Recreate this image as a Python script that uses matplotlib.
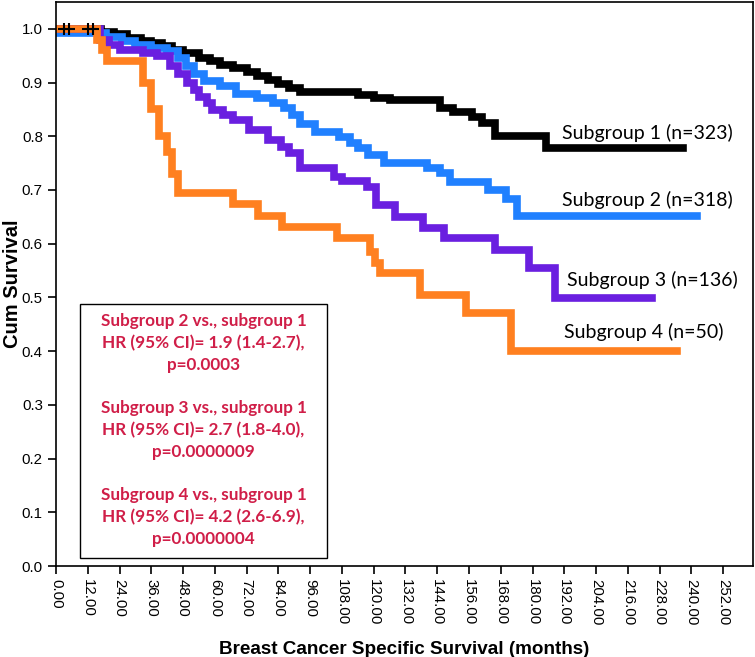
import numpy as np
import matplotlib.pyplot as plt
from matplotlib.patches import Rectangle

# Kaplan-Meier step values (months, cumulative survival)
t1 = [0, 17, 22, 27, 32, 36, 40, 44, 48, 54, 58, 62, 67, 72, 76, 80, 84, 88, 92, 114, 120, 126, 145, 150, 157, 161, 166, 185, 237]
s1 = [1.0, 0.995, 0.99, 0.983, 0.978, 0.973, 0.968, 0.961, 0.955, 0.945, 0.94, 0.933, 0.927, 0.92, 0.913, 0.905, 0.898, 0.89, 0.883, 0.877, 0.872, 0.868, 0.853, 0.845, 0.836, 0.825, 0.80, 0.778, 0.778]

t2 = [0, 19, 25, 30, 36, 42, 46, 49, 52, 56, 62, 68, 76, 82, 86, 89, 92, 98, 107, 111, 114, 118, 124, 140, 145, 149, 163, 170, 174, 242]
s2 = [0.993, 0.985, 0.978, 0.97, 0.965, 0.958, 0.945, 0.93, 0.915, 0.902, 0.893, 0.878, 0.872, 0.862, 0.852, 0.84, 0.822, 0.808, 0.798, 0.787, 0.778, 0.765, 0.75, 0.74, 0.732, 0.715, 0.70, 0.683, 0.652, 0.652]

t3 = [0, 16.6, 20, 24, 33, 38, 43, 46, 49.4, 52, 54, 57, 59, 63, 67, 73, 80, 85, 88, 92, 105, 108, 117.5, 121, 128, 138.5, 146.5, 166, 178.5, 188.5, 225]
s3 = [1.0, 0.98, 0.97, 0.961, 0.955, 0.949, 0.93, 0.915, 0.899, 0.887, 0.874, 0.862, 0.849, 0.84, 0.83, 0.812, 0.793, 0.78, 0.769, 0.741, 0.725, 0.716, 0.706, 0.672, 0.65, 0.629, 0.61, 0.588, 0.555, 0.499, 0.499]

t4 = [0, 15.5, 17.5, 19.3, 33, 36, 39, 42, 44, 46, 67, 76.3, 85.4, 106, 118.6, 120.5, 122.4, 137.5, 155, 172, 234.6]
s4 = [1.0, 0.98, 0.96, 0.94, 0.90, 0.85, 0.80, 0.77, 0.73, 0.695, 0.673, 0.652, 0.632, 0.611, 0.585, 0.565, 0.545, 0.505, 0.471, 0.40, 0.40]

censor_t = [3, 5, 12, 14]
censor_s = [1.0, 1.0, 1.0, 1.0]

labels = ["Subgroup 1 (n=323)", "Subgroup 2 (n=318)", "Subgroup 3 (n=136)", "Subgroup 4 (n=50)"]
colors = ["#000000", "#2080ff", "#6a1fe0", "#ff8020"]

box_text = ("Subgroup 2 vs., subgroup 1\nHR (95% CI)= 1.9 (1.4-2.7),\np=0.0003\n\n"
            "Subgroup 3 vs., subgroup 1\nHR (95% CI)= 2.7 (1.8-4.0),\np=0.0000009\n\n"
            "Subgroup 4 vs., subgroup 1\nHR (95% CI)= 4.2 (2.6-6.9),\np=0.0000004")

xticks = np.arange(0, 253, 12)
yticks = np.arange(0, 1.01, 0.1)

fig = plt.figure(figsize=(7.55, 6.57), dpi=100)
ax = fig.add_axes([0.0742, 0.1385, 0.9232, 0.8585])

# draw the four curves (orange last so it sits on top like the original)
for t, s, c in [(t1, s1, colors[0]), (t2, s2, colors[1]), (t3, s3, colors[2]), (t4, s4, colors[3])]:
    ax.step(t, s, where="post", color=c, lw=5.5, solid_joinstyle="miter")
ax.plot(censor_t, censor_s, "+", color="black", ms=8, mew=1.5)

# curve labels
label_x = [191, 191, 193, 192]
label_y = [0.806, 0.681, 0.532, 0.436]
for lx, ly, txt in zip(label_x, label_y, labels):
    ax.text(lx, ly, txt, fontsize=14, family="Lato", va="center", ha="left")

# hazard ratio box
ax.add_patch(Rectangle((0.0344, 0.0142), 0.3544, 0.4503, transform=ax.transAxes,
                       fc="white", ec="black", lw=1, zorder=3))
ax.text(0.2116, 0.241, box_text, transform=ax.transAxes, ha="center", va="center",
        fontsize=12.3, fontweight="bold", family="Lato", color="#d01e48", linespacing=1.44, zorder=4)

ax.set_xlim(0, 263.3)
ax.set_ylim(0, 1.05)
ax.set_xticks(xticks)
ax.set_xticklabels([f"{v:.2f}" for v in xticks], rotation=-90, family="Liberation Sans", fontsize=10.8)
ax.set_yticks(yticks)
ax.set_yticklabels([f"{v:.1f}" for v in yticks], family="Liberation Sans", fontsize=10.8)
ax.tick_params(direction="out", length=6, width=1.2)
for sp in ax.spines.values():
    sp.set_linewidth(1.2)

ax.set_xlabel("Breast Cancer Specific Survival (months)", family="Liberation Sans",
              fontweight="bold", fontsize=13.6, va="center")
ax.xaxis.set_label_coords(0.5, -0.148)
ax.set_ylabel("Cum Survival", family="Liberation Sans", fontweight="bold", fontsize=14.5, va="center")
ax.yaxis.set_label_coords(-0.063, 0.5)

fig.savefig("out.png", dpi=100)
